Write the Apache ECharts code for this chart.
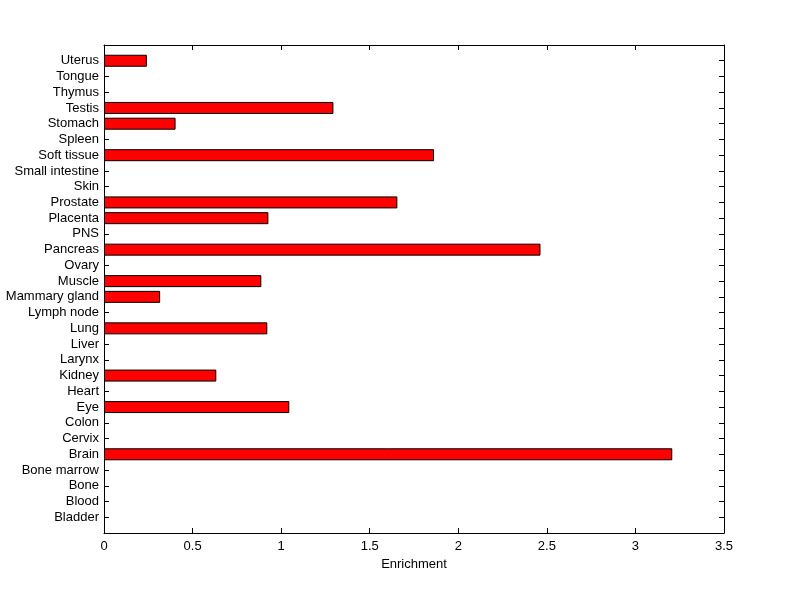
<!DOCTYPE html>
<html>
<head>
<meta charset="utf-8">
<script src="https://cdn.jsdelivr.net/npm/echarts@6/dist/echarts.min.js"></script>
<style>html,body{margin:0;padding:0;background:#fff;}#c{width:800px;height:599px;}</style>
</head>
<body>
<div id="c"></div>
<script>
var categories = ['Bladder','Blood','Bone','Bone marrow','Brain','Cervix','Colon','Eye','Heart','Kidney','Larynx','Liver','Lung','Lymph node','Mammary gland','Muscle','Ovary','Pancreas','PNS','Placenta','Prostate','Skin','Small intestine','Soft tissue','Spleen','Stomach','Testis','Thymus','Tongue','Uterus'];
var enrichment = [0,0,0,0,3.208,0,0,1.046,0,0.634,0,0,0.922,0,0.317,0.888,0,2.464,0,0.928,1.656,0,0,1.863,0,0.404,1.295,0,0,0.242];
var xTicks = [0,0.5,1,1.5,2,2.5,3,3.5];

var padCats = [''].concat(categories).concat(['']);
var padData = [null].concat(enrichment.map(function(v){return v===0?null:v;})).concat([null]);

var font = 'Liberation Sans, Arial, sans-serif';
var fs = 13;
var chart = echarts.init(document.getElementById('c'));
var common = {
  axisLine:{show:true,onZero:false,lineStyle:{color:'#000',width:1}},
  splitLine:{show:false}
};
chart.setOption({
  animation:false,
  backgroundColor:'#fff',
  grid:{left:104,right:76,top:45,bottom:66,containLabel:false},
  xAxis:[
    Object.assign({type:'value',min:0,max:3.5,interval:0.5,position:'bottom',
      name:'Enrichment',nameLocation:'middle',nameGap:23,
      nameTextStyle:{fontFamily:font,fontSize:fs,color:'#000'},
      axisTick:{show:true,inside:true,length:5,lineStyle:{color:'#000'}},
      axisLabel:{fontFamily:font,fontSize:fs,color:'#000',margin:7,
        formatter:function(v){return xTicks.indexOf(v)>=0?String(v):'';}}},common),
    Object.assign({type:'value',min:0,max:3.5,interval:0.5,position:'top',
      axisTick:{show:true,inside:true,length:5,lineStyle:{color:'#000'}},
      axisLabel:{show:false}},common)
  ],
  yAxis:[
    Object.assign({type:'category',data:padCats,boundaryGap:false,position:'left',
      axisTick:{show:true,inside:true,length:5,lineStyle:{color:'#000'}},
      axisLabel:{fontFamily:font,fontSize:fs,color:'#000',margin:5,interval:0}},common),
    Object.assign({type:'category',data:padCats,boundaryGap:false,position:'right',
      axisTick:{show:true,inside:true,length:5,lineStyle:{color:'#000'}},
      axisLabel:{show:false}},common)
  ],
  series:[{
    type:'bar',
    xAxisIndex:0,yAxisIndex:0,
    data:padData,
    barWidth:12,
    itemStyle:{color:'#ff0000',borderColor:'#000',borderWidth:1}
  }]
});
</script>
</body>
</html>
